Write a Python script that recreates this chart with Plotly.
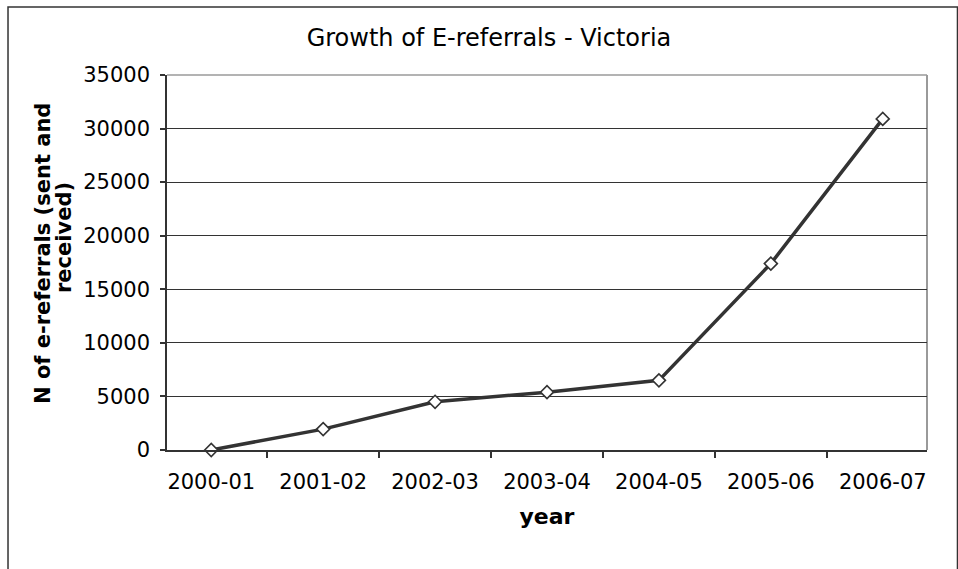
import plotly.graph_objects as go

# Annual e-referral counts, Victoria
years = ["2000-01", "2001-02", "2002-03", "2003-04", "2004-05", "2005-06", "2006-07"]
referrals = [0, 1950, 4500, 5400, 6500, 17400, 30900]

y_ticks = [0, 5000, 10000, 15000, 20000, 25000, 30000, 35000]

FONT = "DejaVu Sans, Verdana, sans-serif"
DARK = "#333333"

fig = go.Figure()
fig.add_trace(go.Scatter(
    x=years,
    y=referrals,
    mode="lines+markers",
    line=dict(color=DARK, width=3.5),
    marker=dict(symbol="diamond", size=10, color="white",
                line=dict(color=DARK, width=1.6)),
    cliponaxis=False,
    showlegend=False,
))

fig.update_layout(
    width=958,
    height=569,
    margin=dict(l=167, r=31, t=75, b=119),
    paper_bgcolor="white",
    plot_bgcolor="white",
    font=dict(family=FONT, size=21, color="black"),
    title=dict(
        text="Growth of E-referrals - Victoria",
        x=0.5104, xanchor="center",
        y=1 - 38 / 569, yanchor="middle",
        font=dict(family=FONT, size=24, color="black"),
    ),
    xaxis=dict(
        type="category",
        categoryorder="array",
        categoryarray=years,
        showgrid=False,
        showline=True, linecolor=DARK, linewidth=1.5,
        ticks="outside", tickson="boundaries", ticklen=6,
        tickcolor=DARK, tickwidth=1.5,
        ticklabelstandoff=12,
        tickfont=dict(family=FONT, size=21, color="black"),
        title=dict(text="<b>year</b>", standoff=16,
                   font=dict(family=FONT, size=22, color="black")),
        zeroline=False,
    ),
    yaxis=dict(
        range=[0, 35000],
        tickvals=y_ticks,
        tickformat="d",
        showgrid=True, gridcolor=DARK, gridwidth=1,
        showline=True, linecolor=DARK, linewidth=1.5,
        ticks="outside", ticklen=5, tickcolor=DARK, tickwidth=1.5,
        ticklabelstandoff=6,
        tickfont=dict(family=FONT, size=21, color="black"),
        zeroline=False,
    ),
    annotations=[
        dict(text="<b>N of e-referrals (sent and</b>",
             xref="paper", yref="paper",
             x=(43 - 167) / 760, y=(450 - 254) / 375,
             xanchor="center", yanchor="middle", textangle=-90,
             showarrow=False, font=dict(family=FONT, size=21, color="black")),
        dict(text="<b>received)</b>",
             xref="paper", yref="paper",
             x=(64 - 167) / 760, y=(450 - 238) / 375,
             xanchor="center", yanchor="middle", textangle=-90,
             showarrow=False, font=dict(family=FONT, size=21, color="black")),
    ],
    shapes=[
        # plot-area frame on top and right
        dict(type="line", xref="paper", yref="paper", x0=0, x1=1, y0=1, y1=1,
             line=dict(color="#9a9a9a", width=1.5), layer="below"),
        dict(type="line", xref="paper", yref="paper", x0=1, x1=1, y0=0, y1=1,
             line=dict(color="#9a9a9a", width=2), layer="below"),
        # chart-area border
        dict(type="rect", xref="paper", yref="paper",
             x0=-0.2092, x1=1.0401, y0=-0.4, y1=1.1813,
             line=dict(color=DARK, width=1.5), fillcolor="rgba(0,0,0,0)"),
    ],
)

fig.write_html("out.html")
